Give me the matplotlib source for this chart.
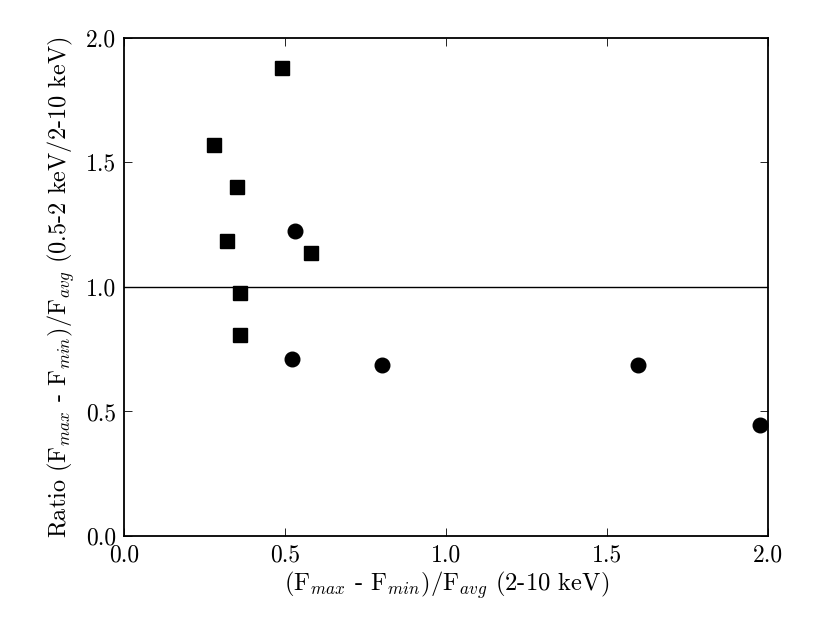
import numpy as np
import matplotlib
matplotlib.use('Agg')
import matplotlib.pyplot as plt

plt.rcParams['font.family'] = 'serif'
plt.rcParams['font.serif'] = ['cmr10', 'DejaVu Serif']
plt.rcParams['mathtext.fontset'] = 'cm'
plt.rcParams['axes.formatter.use_mathtext'] = True
plt.rcParams['axes.unicode_minus'] = False

# Squares
sq_x = [0.49, 0.28, 0.35, 0.32, 0.58, 0.36, 0.36]
sq_y = [1.88, 1.57, 1.40, 1.185, 1.135, 0.975, 0.805]

# Circles
ci_x = [0.53, 0.52, 0.80, 1.595, 1.975]
ci_y = [1.225, 0.71, 0.687, 0.687, 0.445]

ticks = [0.0, 0.5, 1.0, 1.5, 2.0]

fig = plt.figure(figsize=(8.3, 6.23), dpi=100)
ax = fig.add_axes([0.1495, 0.1397, 0.776, 0.7995])

ax.plot(sq_x, sq_y, 's', color='black', markersize=10.5)
ax.plot(ci_x, ci_y, 'o', color='black', markersize=10.5)
ax.axhline(1.0, color='black', lw=1.0)

ax.set_xlim(0, 2)
ax.set_ylim(0, 2)
ax.set_xticks(ticks)
ax.set_yticks(ticks)
ax.set_xticklabels(['%.1f' % t for t in ticks])
ax.set_yticklabels(['%.1f' % t for t in ticks])
ax.tick_params(direction='in', top=True, right=True, length=6, width=0.6,
               labelsize=17, pad=6)
for s in ax.spines.values():
    s.set_linewidth(1.3)

ax.set_xlabel(r'(F$_{max}$ - F$_{min}$)/F$_{avg}$ (2-10 keV)', fontsize=17.7, labelpad=2)
ax.set_ylabel(r'Ratio (F$_{max}$ - F$_{min}$)/F$_{avg}$ (0.5-2 keV/2-10 keV)', fontsize=17.5, labelpad=6)

plt.savefig('out.png', dpi=100)
